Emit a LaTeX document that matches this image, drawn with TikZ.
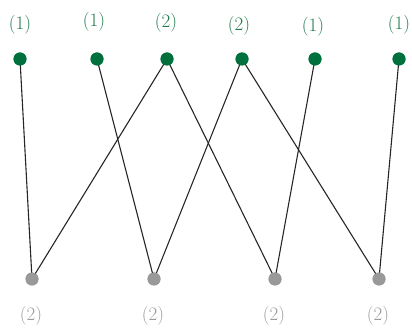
\documentclass[tikz,border=0pt]{standalone}
\begin{document}
\begin{tikzpicture}[x=1pt,y=-1pt,
  topdot/.style={circle,fill=topgreen,inner sep=0pt,minimum size=13pt},
  botdot/.style={circle,fill=botgray,inner sep=0pt,minimum size=13pt},
  toplab/.style={text=toplabel,font=\fontsize{19}{22}\selectfont,inner sep=0pt},
  botlab/.style={text=botlabel,font=\fontsize{19}{22}\selectfont,inner sep=0pt},
  edge/.style={draw=black!85,line width=1.1pt}]
\definecolor{topgreen}{HTML}{00703C}
\definecolor{botgray}{HTML}{999999}
\definecolor{toplabel}{HTML}{1F7A4A}
\definecolor{botlabel}{HTML}{9A9A9A}
\useasboundingbox (0,0) rectangle (412,328);
% top nodes
\node[topdot] (t1) at (20,59) {};
\node[topdot] (t2) at (97,59) {};
\node[topdot] (t3) at (167,59) {};
\node[topdot] (t4) at (242,59) {};
\node[topdot] (t5) at (315,59) {};
\node[topdot] (t6) at (399,59) {};
% bottom nodes
\node[botdot] (b1) at (32,279) {};
\node[botdot] (b2) at (154,279) {};
\node[botdot] (b3) at (275,279) {};
\node[botdot] (b4) at (379,279) {};
% labels
\node[toplab] (lt1) at (20,25) {(1)};
\node[toplab] (lt2) at (94,22) {(1)};
\node[toplab] (lt3) at (166,23) {(2)};
\node[toplab] (lt4) at (239,26) {(2)};
\node[toplab] (lt5) at (313,27) {(1)};
\node[toplab] (lt6) at (399,25) {(1)};
\node[botlab] (lb1) at (31,316) {(2)};
\node[botlab] (lb2) at (153,316) {(2)};
\node[botlab] (lb3) at (274,316) {(2)};
\node[botlab] (lb4) at (378,316) {(2)};
% edges
\draw[edge] (t1.center) -- (b1.center);
\draw[edge] (t2.center) -- (b2.center);
\draw[edge] (t3.center) -- (b1.center);
\draw[edge] (t3.center) -- (b3.center);
\draw[edge] (t4.center) -- (b2.center);
\draw[edge] (t4.center) -- (b4.center);
\draw[edge] (t5.center) -- (b3.center);
\draw[edge] (t6.center) -- (b4.center);
% redraw dots on top
\foreach \n in {t1,t2,t3,t4,t5,t6} \fill[topgreen] (\n.center) circle (6.5pt);
\foreach \n in {b1,b2,b3,b4} \fill[botgray] (\n.center) circle (6.5pt);
\end{tikzpicture}
\end{document}
